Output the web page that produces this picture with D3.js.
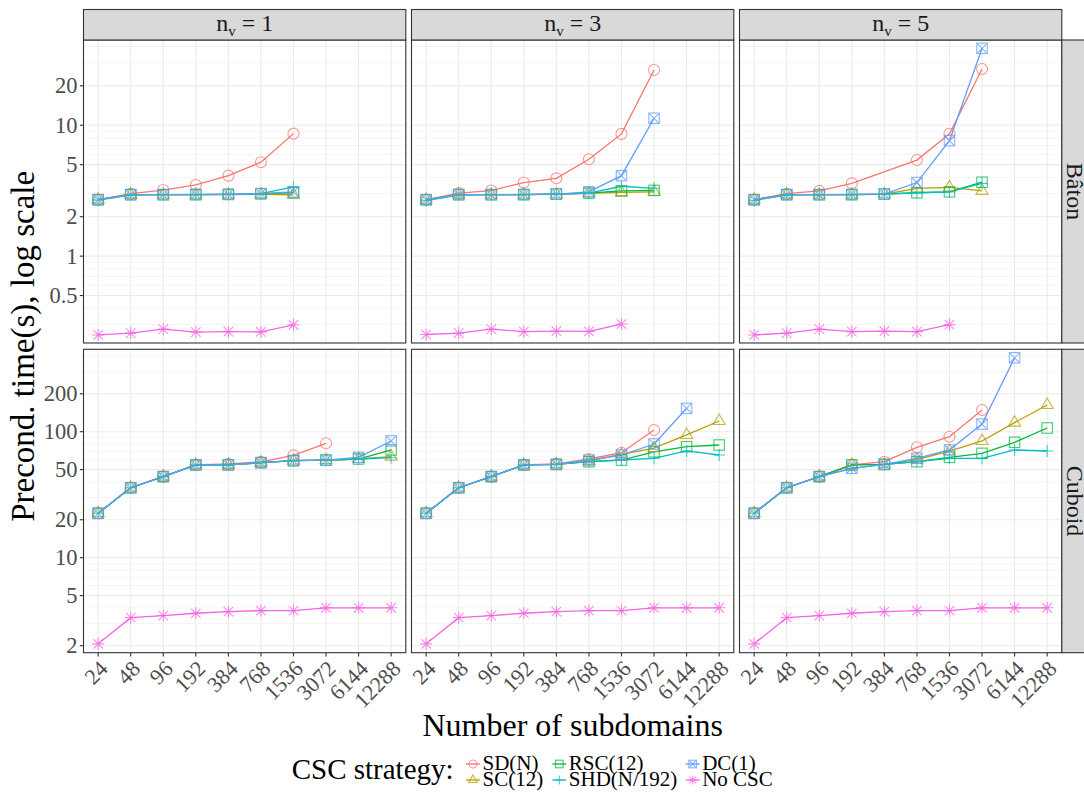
<!DOCTYPE html>
<html><head><meta charset="utf-8">
<script src="https://cdn.jsdelivr.net/npm/d3@7"></script>
<style>body{margin:0;background:#fff} svg{display:block} text{font-family:"Liberation Serif",serif}</style>
</head><body><svg id="c" width="1084" height="794"></svg>
<script>
// ---------------- data ----------------
const xCats = [24, 48, 96, 192, 384, 768, 1536, 3072, 6144, 12288];
const nvLevels = [1, 3, 5];
const meshes = ["Bâton", "Cuboid"];
const strategies = ["SD(N)", "SC(12)", "RSC(12)", "SHD(N/192)", "DC(1)", "No CSC"];
const colors = ["#F8766D", "#B79F00", "#00BA38", "#00BFC4", "#619CFF", "#F564E3"];
const shapes = ["circle", "triangle", "square", "plus", "squareX", "asterisk"];
const yTicksBaton = [0.5, 1, 2, 5, 10, 20];
const yTicksCuboid = [2, 5, 10, 20, 50, 100, 200];

// Bâton, n_v = 1
const baton1_SD   = [2.7, 3.0, 3.2, 3.5, 4.12, 5.22, 8.63];
const baton1_SC   = [2.7, 2.95, 2.95, 2.95, 2.95, 2.97, 2.94];
const baton1_RSC  = [2.7, 2.95, 2.95, 2.95, 2.96, 3.0, 3.05];
const baton1_SHD  = [2.68, 2.93, 2.95, 2.95, 2.96, 3.0, 3.38];
const baton1_DC   = [2.7, 2.95, 2.95, 2.96, 2.97, 3.0, 3.1];
const baton1_No   = [0.25, 0.258, 0.277, 0.263, 0.265, 0.264, 0.299];
// Bâton, n_v = 3
const baton3_SD   = [2.7, 3.03, 3.17, 3.65, 3.93, 5.5, 8.59, 26.4];
const baton3_SC   = [2.7, 2.95, 2.95, 2.95, 2.97, 3.02, 3.07, 3.1];
const baton3_RSC  = [2.7, 2.95, 2.95, 2.95, 2.98, 3.03, 3.15, 3.18];
const baton3_SHD  = [2.66, 2.93, 2.95, 2.95, 2.99, 3.03, 3.42, 3.3];
const baton3_DC   = [2.7, 2.95, 2.95, 2.96, 2.98, 3.1, 4.12, 11.3];
const baton3_No   = [0.252, 0.258, 0.277, 0.265, 0.267, 0.266, 0.303];
// Bâton, n_v = 5 (null = no measurement)
const baton5_SD   = [2.7, 3.0, 3.15, 3.6, null, 5.42, 8.6, 26.9];
const baton5_SC   = [2.7, 2.95, 2.95, 2.95, 2.97, 3.3, 3.35, 3.15];
const baton5_RSC  = [2.7, 2.95, 2.95, 2.95, 2.98, 3.05, 3.1, 3.67];
const baton5_SHD  = [2.66, 2.93, 2.95, 2.95, 2.98, 3.05, 3.1, 3.6];
const baton5_DC   = [2.7, 2.95, 2.95, 2.96, 2.98, 3.65, 7.63, 38.7];
const baton5_No   = [0.25, 0.258, 0.277, 0.265, 0.267, 0.265, 0.30];
// Cuboid, n_v = 1
const cuboid1_SD  = [22.5, 35.9, 44, 54.5, 55.5, 57.5, 64.9, 80.9];
const cuboid1_SC  = [22.5, 35.9, 44, 54.5, 54.5, 56.8, 58.9, 59.5, 60.7, 63.4];
const cuboid1_RSC = [22.5, 35.9, 44, 54.5, 54.5, 56.8, 58.9, 59.5, 60.7, 71.6];
const cuboid1_SHD = [22.5, 35.9, 44, 54.5, 54.5, 56.8, 58.9, 59.5, 60.7, 62.2];
const cuboid1_DC  = [22.5, 35.9, 44, 54.5, 54.5, 56.8, 58.9, 59.5, 62.6, 84.4];
const cuboid1_No  = [2.07, 3.34, 3.47, 3.62, 3.73, 3.8, 3.8, 4.0, 4.0, 4.0];
// Cuboid, n_v = 3
const cuboid3_SD  = [22.5, 35.9, 44, 54.5, 55.5, 60.7, 68.1, 103];
const cuboid3_SC  = [22.5, 35.9, 44, 54.5, 55, 58.5, 66, 74, 94.2, 121.6];
const cuboid3_RSC = [22.5, 35.9, 44, 54.5, 55, 57.8, 59.5, 69.3, 76, 78.4];
const cuboid3_SHD = [22.5, 35.9, 44, 54.5, 55, 57.8, 59.6, 61.5, 70.3, 65.3];
const cuboid3_DC  = [22.5, 35.9, 44, 54.5, 55, 59.5, 65.3, 79.8, 153];
const cuboid3_No  = [2.07, 3.34, 3.47, 3.62, 3.73, 3.8, 3.8, 4.0, 4.0, 4.0];
// Cuboid, n_v = 5
const cuboid5_SD  = [22.5, 35.9, 44, 54.5, 57.8, 75.2, 91.3, 148.6];
const cuboid5_SC  = [22.5, 35.9, 44, 54.5, 55, 60, 70, 84.4, 118, 163];
const cuboid5_RSC = [22.5, 35.9, 44, 54.5, 55, 57.8, 62.6, 67.3, 82.4, 107];
const cuboid5_SHD = [22.5, 35.9, 44, 51.2, 55, 57.8, 61.5, 61.5, 71.6, 70.3];
const cuboid5_DC  = [22.5, 35.9, 44, 51.2, 55, 61.5, 71.6, 115, 386];
const cuboid5_No  = [2.07, 3.34, 3.47, 3.62, 3.73, 3.8, 3.8, 4.0, 4.0, 4.0];

const panelData = [
  [[baton1_SD, baton1_SC, baton1_RSC, baton1_SHD, baton1_DC, baton1_No],
   [baton3_SD, baton3_SC, baton3_RSC, baton3_SHD, baton3_DC, baton3_No],
   [baton5_SD, baton5_SC, baton5_RSC, baton5_SHD, baton5_DC, baton5_No]],
  [[cuboid1_SD, cuboid1_SC, cuboid1_RSC, cuboid1_SHD, cuboid1_DC, cuboid1_No],
   [cuboid3_SD, cuboid3_SC, cuboid3_RSC, cuboid3_SHD, cuboid3_DC, cuboid3_No],
   [cuboid5_SD, cuboid5_SC, cuboid5_RSC, cuboid5_SHD, cuboid5_DC, cuboid5_No]]
];

// ---------------- layout ----------------
const svg = d3.select("#c");
const W = 322.3, gap = 5.7, left0 = 83.5;
const rows = [{top: 40, bottom: 343}, {top: 349.3, bottom: 652.7}];
const stripTop = 9.5;
const yDomains = [[0.217, 44.8], [1.76, 451]];
const yMajors = [yTicksBaton, yTicksCuboid];
const grid = "#EBEBEB", border = "#333333", tickTxt = "#4D4D4D";

function minorBreaks(dom, majors) {
  const out = [];
  for (let k = -2; k <= 3; k++) for (let m = 1; m <= 9; m++) {
    const v = m * Math.pow(10, k);
    if (v > dom[0] && v < dom[1] && !majors.some(t => Math.abs(t - v) / v < 1e-9)) out.push(v);
  }
  return out;
}

function marker(g, shape, cx, cy, s, color, op) {
  const gg = g.append("g").attr("transform", `translate(${cx},${cy})`)
    .attr("fill", "none").attr("stroke", color).attr("stroke-width", 1.1).attr("opacity", op);
  const a = 1.1 * s;
  if (shape === "circle") gg.append("circle").attr("r", s);
  else if (shape === "triangle") {
    const h = 1.9 * s;
    gg.append("path").attr("d", `M0,${-h * 2 / 3}L${1.1 * s},${h / 3}L${-1.1 * s},${h / 3}Z`);
  } else if (shape === "square" || shape === "squareX") {
    const q = 0.95 * s;
    gg.append("rect").attr("x", -q).attr("y", -q).attr("width", 2 * q).attr("height", 2 * q);
    if (shape === "squareX") gg.append("path").attr("d", `M${-q},${-q}L${q},${q}M${-q},${q}L${q},${-q}`);
  } else if (shape === "plus") {
    gg.append("path").attr("d", `M${-a},0L${a},0M0,${-a}L0,${a}`);
  } else if (shape === "asterisk") {
    const d = 0.78 * a;
    gg.append("path").attr("d", `M${-a},0L${a},0M0,${-a}L0,${a}M${-d},${-d}L${d},${d}M${-d},${d}L${d},${-d}`);
  }
}

const defs = svg.append("defs");

rows.forEach((rg, r) => {
  const y = d3.scaleLog().domain(yDomains[r]).range([rg.bottom, rg.top]);
  const minors = minorBreaks(yDomains[r], yMajors[r]);
  nvLevels.forEach((nv, c) => {
    const px = left0 + c * (W + gap);
    const x = d3.scaleLog().base(2)
      .domain([xCats[0] / Math.pow(2, 0.45), xCats[xCats.length - 1] * Math.pow(2, 0.45)])
      .range([px, px + W]);
    const g = svg.append("g");
    g.append("rect").attr("x", px).attr("y", rg.top).attr("width", W).attr("height", rg.bottom - rg.top).attr("fill", "#fff");
    g.selectAll(".mn").data(minors).enter().append("line")
      .attr("x1", px).attr("x2", px + W).attr("y1", d => y(d)).attr("y2", d => y(d))
      .attr("stroke", grid).attr("stroke-width", 0.55);
    g.selectAll(".mj").data(yMajors[r]).enter().append("line")
      .attr("x1", px).attr("x2", px + W).attr("y1", d => y(d)).attr("y2", d => y(d))
      .attr("stroke", grid).attr("stroke-width", 1.1);
    g.selectAll(".vx").data(xCats).enter().append("line")
      .attr("x1", d => x(d)).attr("x2", d => x(d)).attr("y1", rg.top).attr("y2", rg.bottom)
      .attr("stroke", grid).attr("stroke-width", 1.1);
    const cid = `clip${r}${c}`;
    defs.append("clipPath").attr("id", cid).append("rect")
      .attr("x", px).attr("y", rg.top).attr("width", W).attr("height", rg.bottom - rg.top);
    const dg = g.append("g").attr("clip-path", `url(#${cid})`);
    const series = panelData[r][c].map(vals =>
      vals.map((v, i) => ({x: xCats[i], v})).filter(d => d.v != null));
    const line = d3.line().x(d => x(d.x)).y(d => y(d.v));
    series.forEach((pts, s) => {
      dg.append("path").attr("d", line(pts)).attr("fill", "none")
        .attr("stroke", colors[s]).attr("stroke-width", 1.3);
    });
    series.forEach((pts, s) => {
      pts.forEach(d => marker(dg, shapes[s], x(d.x), y(d.v), 5.5, colors[s], 0.75));
    });
    g.append("rect").attr("x", px).attr("y", rg.top).attr("width", W).attr("height", rg.bottom - rg.top)
      .attr("fill", "none").attr("stroke", border).attr("stroke-width", 1.1);
    if (r === 0) {
      g.append("rect").attr("x", px).attr("y", stripTop).attr("width", W).attr("height", rg.top - stripTop)
        .attr("fill", "#D9D9D9").attr("stroke", border).attr("stroke-width", 1.1);
      const t = g.append("text").attr("x", px + W / 2).attr("y", 31).attr("text-anchor", "middle")
        .attr("font-size", 24).attr("fill", "#1A1A1A");
      t.append("tspan").text("n");
      t.append("tspan").attr("font-size", 15).attr("dy", 5).text("v");
      t.append("tspan").attr("dy", -5).text(" = " + nv);
    }
    if (c === nvLevels.length - 1) {
      g.append("rect").attr("x", px + W).attr("y", rg.top).attr("width", 40).attr("height", rg.bottom - rg.top)
        .attr("fill", "#D9D9D9").attr("stroke", border).attr("stroke-width", 1.1);
      g.append("text").attr("transform", `translate(${px + W + 5.5},${(rg.top + rg.bottom) / 2}) rotate(90)`)
        .attr("text-anchor", "middle").attr("font-size", 24).attr("fill", "#1A1A1A").text(meshes[r]);
    }
    if (c === 0) {
      yMajors[r].forEach(t => {
        g.append("line").attr("x1", px - 3.7).attr("x2", px).attr("y1", y(t)).attr("y2", y(t))
          .attr("stroke", border).attr("stroke-width", 1.1);
        g.append("text").attr("x", px - 6).attr("y", y(t)).attr("dy", "0.34em").attr("text-anchor", "end")
          .attr("font-size", 22.5).attr("fill", tickTxt).text(d3.format("~g")(t));
      });
    }
    if (r === rows.length - 1) {
      xCats.forEach(t => {
        g.append("line").attr("x1", x(t)).attr("x2", x(t)).attr("y1", rg.bottom).attr("y2", rg.bottom + 3.7)
          .attr("stroke", border).attr("stroke-width", 1.1);
        g.append("text").attr("transform", `translate(${x(t)},${rg.bottom + 6.5}) rotate(-45)`)
          .attr("dy", "0.7em").attr("text-anchor", "end")
          .attr("font-size", 22).attr("fill", tickTxt).text(t);
      });
    }
  });
});

const plotLeft = left0, plotRight = left0 + 3 * W + 2 * gap;
svg.append("text").attr("x", (plotLeft + plotRight) / 2).attr("y", 736).attr("text-anchor", "middle")
  .attr("font-size", 32).attr("fill", "#000").text("Number of subdomains");
svg.append("text").attr("transform", `translate(34,${(rows[0].top + rows[1].bottom) / 2}) rotate(-90)`)
  .attr("text-anchor", "middle").attr("font-size", 33).attr("fill", "#000").text("Precond. time(s), log scale");

svg.append("text").attr("x", 291.7).attr("y", 779).attr("font-size", 29).attr("fill", "#000").text("CSC strategy:");
const legKeyX = [473, 559.3, 692.7];
const legRowY = [764, 780];
strategies.forEach((s, i) => {
  const col = Math.floor(i / 2), row = i % 2;
  const kx = legKeyX[col], ky = legRowY[row];
  svg.append("line").attr("x1", kx - 7).attr("x2", kx + 7).attr("y1", ky).attr("y2", ky)
    .attr("stroke", colors[i]).attr("stroke-width", 1.3);
  marker(svg, shapes[i], kx, ky, 4, colors[i], 0.75);
  svg.append("text").attr("x", kx + 9.5).attr("y", ky + 5.5).attr("font-size", 21).attr("fill", "#000").text(s);
});
</script></body></html>
